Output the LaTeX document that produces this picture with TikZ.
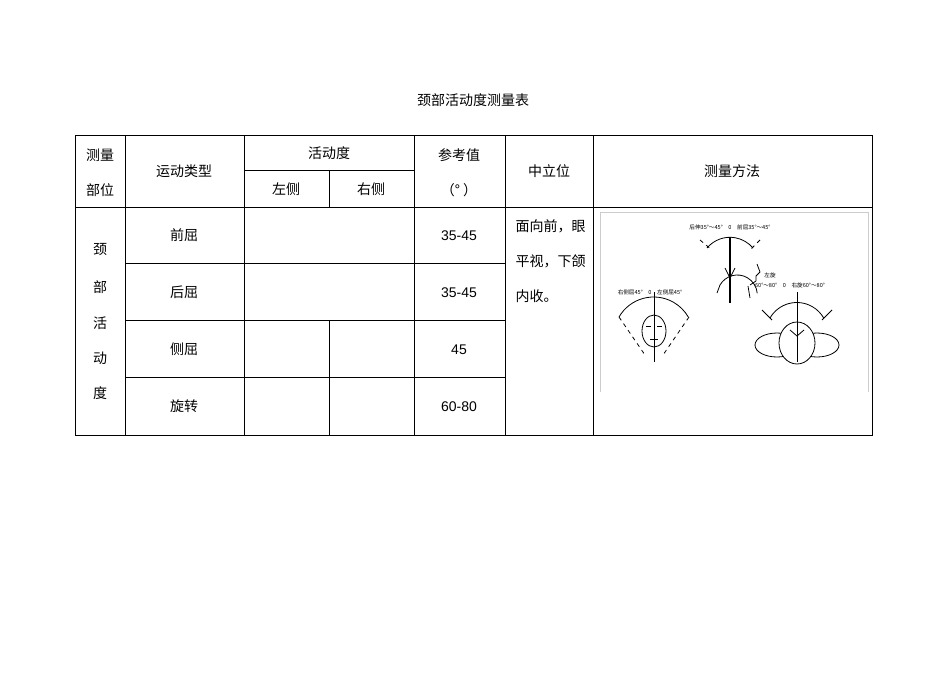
\documentclass[tikz,border=0pt]{standalone}
\usepackage{fontspec}
\setmainfont{Liberation Sans}
\newfontfamily\cjk{Noto Sans CJK SC}
\begin{document}
\begin{tikzpicture}[x=0.75pt,y=-0.75pt,
  cell/.style={font=\cjk\fontsize{10.5}{12}\selectfont},
  num/.style={font=\fontsize{10.5}{12}\selectfont},
  tiny/.style={font=\cjk\fontsize{4.2}{5}\selectfont,inner sep=0pt},
  grid/.style={line width=0.6pt},
  fig/.style={line width=0.6pt}]
\useasboundingbox (0,0) rectangle (950,672);
\node[cell] (title) at (473,100) {颈部活动度测量表};
% table lines
\draw[grid] (75,135) rectangle (872,435);
\foreach \x in {125,244,414,505,593} \draw[grid] (\x,135) -- (\x,435);
\draw[grid] (329,170) -- (329,207);
\draw[grid] (329,320) -- (329,435);
\draw[grid] (244,170) -- (414,170);
\draw[grid] (75,207) -- (872,207);
\foreach \y in {263,320,377} \draw[grid] (125,\y) -- (505,\y);
% header
\node[cell] (h1) at (100,155) {测量};
\node[cell] (h1b) at (100,190) {部位};
\node[cell] (h2) at (184,171) {运动类型};
\node[cell] (h3) at (329,153) {活动度};
\node[cell] (h3a) at (286,189) {左侧};
\node[cell] (h3b) at (371,189) {右侧};
\node[cell] (h4) at (459,155) {参考值};
\node[cell] (h4b) at (459,190) {（°\ ）};
\node[cell] (h5) at (549,171) {中立位};
\node[cell] (h6) at (732,171) {测量方法};
% left column
\foreach \t/\y in {颈/250,部/287,活/323,动/358,度/393} \node[cell] at (100,\y) {\t};
\node[cell] (r1) at (184,235) {前屈};
\node[cell] (r2) at (184,292) {后屈};
\node[cell] (r3) at (184,349) {侧屈};
\node[cell] (r4) at (184,406) {旋转};
\node[num] (v1) at (459,236) {35-45};
\node[num] (v2) at (459,293) {35-45};
\node[num] (v3) at (459,350) {45};
\node[num] (v4) at (459,407) {60-80};
\node[cell,anchor=west] (n1) at (511,226) {面向前，眼};
\node[cell,anchor=west] (n2) at (511,261) {平视，下颌};
\node[cell,anchor=west] (n3) at (511,296) {内收。};
% figure
\draw[gray!40,line width=0.5pt] (600,212) -- (868,212) -- (868,392);
\draw[gray!40,line width=0.5pt] (600,212) -- (600,392);
% top head
\node[tiny] (l1) at (730,227) {后伸35°～45°\quad 0\quad 前屈35°～45°};
\draw[fig] (707,248) arc[start angle=220,end angle=320,radius=30];
\draw[fig,dashed] (700,240) -- (712,250);
\draw[fig,dashed] (760,240) -- (750,250);
\draw[fig] (720,285) arc[start angle=210,end angle=355,radius=20];
\draw[fig] (757,264) -- (760,272) -- (756,276) -- (756,281) -- (750,285);
\draw[fig] (748,286) -- (750,298) (720,285) -- (717,293);
\draw[line width=1pt] (730,237) -- (730,303);
\draw[fig] (725,268) -- (730,278) -- (735,268);
% left head
\node[tiny] (l2) at (650,292) {右侧屈45°\quad 0\quad 左侧屈45°};
\draw[fig] (619,317) arc[start angle=210,end angle=330,radius=40];
\draw[fig,dashed] (619,317) -- (645,355);
\draw[fig,dashed] (689,317) -- (663,355);
\draw[fig] (654,331) ellipse[x radius=12,y radius=16];
\draw[fig] (646,326) -- (651,326) (657,326) -- (662,326) (650,339) -- (658,339);
\draw[fig] (654,292) -- (654,362);
% right head
\node[tiny] (l3a) at (770,275) {左旋};
\node[tiny] (l3) at (790,285) {60°～80°\quad 0\quad 右旋60°～80°};
\draw[fig] (770,318) arc[start angle=210,end angle=330,radius=31];
\draw[fig] (762,310) -- (772,320) (832,310) -- (822,320);
\draw[fig] (777,345) ellipse[x radius=22,y radius=12];
\draw[fig] (817,345) ellipse[x radius=22,y radius=12];
\draw[fig,fill=white] (797,343) ellipse[x radius=18,y radius=21];
\draw[fig] (790,330) -- (797,336) -- (804,330);
\draw[fig] (797,292) -- (797,362);
\end{tikzpicture}
\end{document}
